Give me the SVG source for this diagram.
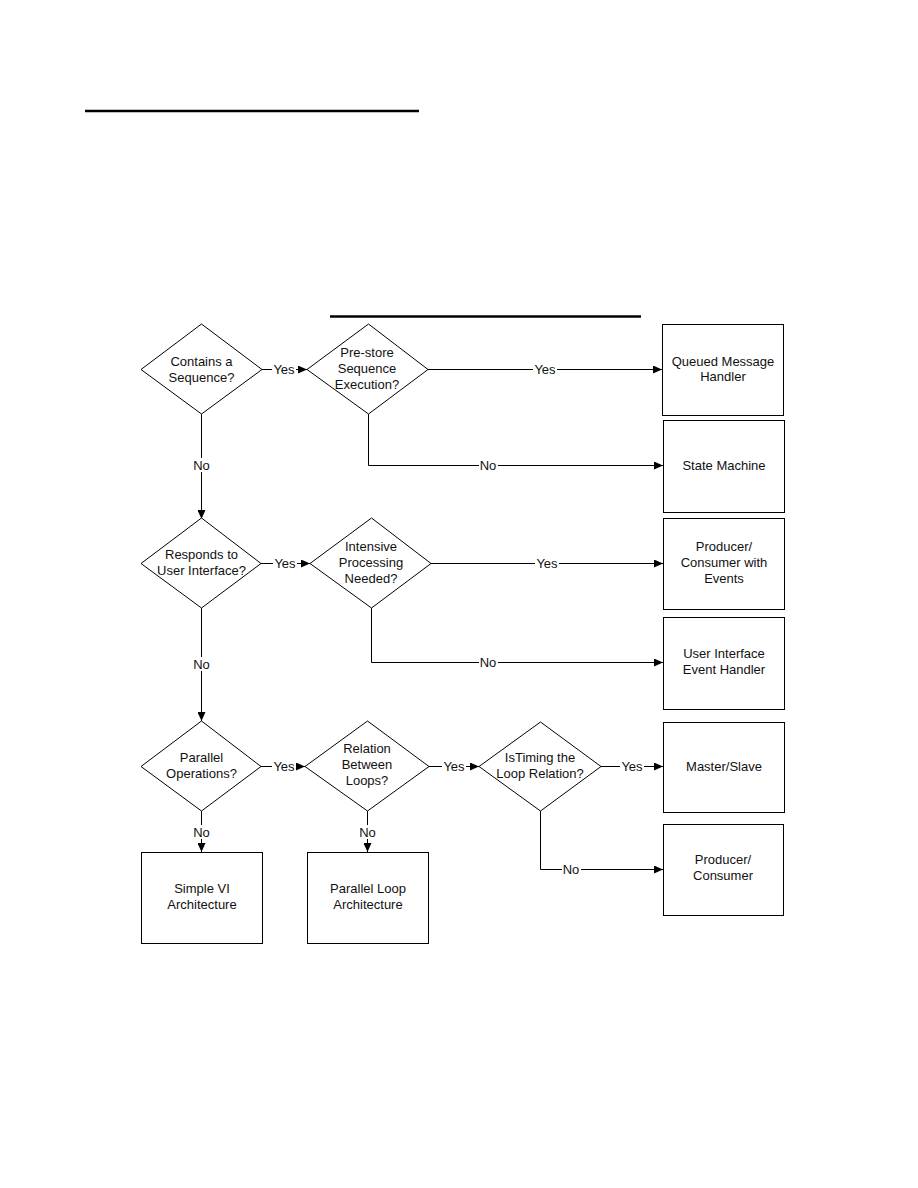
<svg xmlns="http://www.w3.org/2000/svg" width="918" height="1188" viewBox="0 0 918 1188">
<defs>
<style>
.shape{fill:#fff;stroke:#000;stroke-width:1}
.conn{fill:none;stroke:#000;stroke-width:1}
.t{font-family:"Liberation Sans",Arial,sans-serif;font-size:13px;fill:#111;text-anchor:middle}
.lbg{fill:#fff;stroke:none}
.rule{stroke:#000;stroke-width:2.5}
</style>
<marker id="arr" markerUnits="userSpaceOnUse" markerWidth="9" markerHeight="8" refX="9" refY="4" orient="auto">
<path d="M0,0 L9,4 L0,8 z" fill="#000"/>
</marker>
</defs>
<rect width="918" height="1188" fill="#fff"/>
<line class="rule" x1="85" y1="111" x2="419" y2="111"/>
<line class="rule" x1="330" y1="316.5" x2="641" y2="316.5"/>

<g id="connectors">
<path class="conn" d="M262,369.5 H307" marker-end="url(#arr)"/>
<path class="conn" d="M428,369.5 H662" marker-end="url(#arr)"/>
<path class="conn" d="M368.5,414 V465.5 H663" marker-end="url(#arr)"/>
<path class="conn" d="M201.5,414 V519" marker-end="url(#arr)"/>
<path class="conn" d="M261,563.5 H310" marker-end="url(#arr)"/>
<path class="conn" d="M431,563.5 H663" marker-end="url(#arr)"/>
<path class="conn" d="M371.5,608 V662.5 H663" marker-end="url(#arr)"/>
<path class="conn" d="M201.5,608 V721" marker-end="url(#arr)"/>
<path class="conn" d="M261,766.5 H305" marker-end="url(#arr)"/>
<path class="conn" d="M429,766.5 H479" marker-end="url(#arr)"/>
<path class="conn" d="M601,766.5 H663" marker-end="url(#arr)"/>
<path class="conn" d="M540.5,811 V869.5 H663" marker-end="url(#arr)"/>
<path class="conn" d="M201.5,811 V852" marker-end="url(#arr)"/>
<path class="conn" d="M367.5,811 V852" marker-end="url(#arr)"/>
<g id="labels">
<rect class="lbg" x="272" y="362" width="24" height="14"/><text class="t" x="284" y="374">Yes</text>
<rect class="lbg" x="533" y="362" width="24" height="14"/><text class="t" x="545" y="374">Yes</text>
<rect class="lbg" x="479" y="458" width="19" height="14"/><text class="t" x="488" y="470">No</text>
<rect class="lbg" x="192" y="458" width="19" height="14"/><text class="t" x="201.5" y="470">No</text>
<rect class="lbg" x="273" y="556" width="24" height="14"/><text class="t" x="285" y="568">Yes</text>
<rect class="lbg" x="535" y="556" width="24" height="14"/><text class="t" x="547" y="568">Yes</text>
<rect class="lbg" x="479" y="655" width="19" height="14"/><text class="t" x="488" y="667">No</text>
<rect class="lbg" x="192" y="657" width="19" height="14"/><text class="t" x="201.5" y="669">No</text>
<rect class="lbg" x="272" y="759" width="24" height="14"/><text class="t" x="284" y="771">Yes</text>
<rect class="lbg" x="442" y="759" width="24" height="14"/><text class="t" x="454" y="771">Yes</text>
<rect class="lbg" x="620" y="759" width="24" height="14"/><text class="t" x="632" y="771">Yes</text>
<rect class="lbg" x="562" y="862" width="19" height="14"/><text class="t" x="571" y="874">No</text>
<rect class="lbg" x="192" y="825" width="19" height="14"/><text class="t" x="201.5" y="837">No</text>
<rect class="lbg" x="358" y="825" width="19" height="14"/><text class="t" x="367.5" y="837">No</text>
</g>
</g>

<g id="d1"><polygon class="shape" points="201.5,324 262,369.5 201.5,414 141,369.5"/>
<text class="t" x="201.5" y="366">Contains a</text><text class="t" x="201.5" y="382">Sequence?</text></g>
<g id="d2"><polygon class="shape" points="368.5,324 428,369.5 368.5,414 307,369.5"/>
<text class="t" x="367" y="357">Pre-store</text><text class="t" x="367" y="373">Sequence</text><text class="t" x="367" y="389">Execution?</text></g>
<g id="b1"><rect class="shape" x="662.5" y="324.5" width="121" height="91"/>
<text class="t" x="723" y="366">Queued Message</text><text class="t" x="723" y="381">Handler</text></g>
<g id="b2"><rect class="shape" x="663.5" y="420.5" width="121" height="92"/>
<text class="t" x="724" y="470">State Machine</text></g>

<g id="d3"><polygon class="shape" points="201.5,518 261,563.5 201.5,608 141,563.5"/>
<text class="t" x="201.5" y="559">Responds to</text><text class="t" x="201.5" y="575">User Interface?</text></g>
<g id="d4"><polygon class="shape" points="371.5,518 431,563.5 371.5,608 310,563.5"/>
<text class="t" x="371" y="551">Intensive</text><text class="t" x="371" y="567">Processing</text><text class="t" x="371" y="583">Needed?</text></g>
<g id="b3"><rect class="shape" x="663.5" y="518.5" width="121" height="91"/>
<text class="t" x="724" y="551">Producer/</text><text class="t" x="724" y="567">Consumer with</text><text class="t" x="724" y="583">Events</text></g>
<g id="b4"><rect class="shape" x="663.5" y="617.5" width="121" height="92"/>
<text class="t" x="724" y="658">User Interface</text><text class="t" x="724" y="674">Event Handler</text></g>

<g id="d5"><polygon class="shape" points="201.5,721 261,766.5 201.5,811 141,766.5"/>
<text class="t" x="201.5" y="762">Parallel</text><text class="t" x="201.5" y="778">Operations?</text></g>
<g id="d6"><polygon class="shape" points="367.5,721 429,766.5 367.5,811 305,766.5"/>
<text class="t" x="367" y="753">Relation</text><text class="t" x="367" y="769">Between</text><text class="t" x="367" y="785">Loops?</text></g>
<g id="d7"><polygon class="shape" points="540.5,722 601,766.5 540.5,811 479,766.5"/>
<text class="t" x="540" y="762">IsTiming the</text><text class="t" x="540" y="778">Loop Relation?</text></g>
<g id="b5"><rect class="shape" x="663.5" y="722.5" width="121" height="90"/>
<text class="t" x="724" y="771">Master/Slave</text></g>
<g id="b6"><rect class="shape" x="663.5" y="824.5" width="120" height="91"/>
<text class="t" x="723" y="864">Producer/</text><text class="t" x="723" y="880">Consumer</text></g>
<g id="b7"><rect class="shape" x="141.5" y="852.5" width="121" height="91"/>
<text class="t" x="202" y="893">Simple VI</text><text class="t" x="202" y="909">Architecture</text></g>
<g id="b8"><rect class="shape" x="307.5" y="852.5" width="121" height="91"/>
<text class="t" x="368" y="893">Parallel Loop</text><text class="t" x="368" y="909">Architecture</text></g>
</svg>
